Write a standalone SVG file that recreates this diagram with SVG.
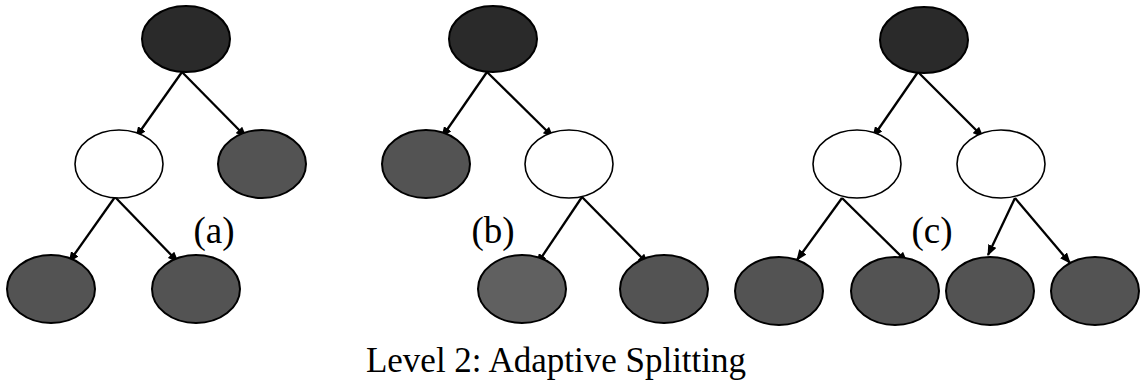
<svg xmlns="http://www.w3.org/2000/svg" width="1143" height="390" viewBox="0 0 1143 390">
  <style>
    .node { stroke: #000; stroke-width: 2; }
    .root { fill: #2a2a2a; }
    .dark { fill: #535353; }
    .mid { fill: #606060; }
    .open { fill: #fff; stroke-width: 1.6; }
    .edge { stroke: #000; stroke-width: 2.3; fill: none; marker-end: url(#arrow); }
    .label { font-family: "Liberation Serif", "Times New Roman", serif; fill: #000; text-anchor: middle; }
  </style>
  <defs>
    <marker id="arrow" markerUnits="userSpaceOnUse" markerWidth="11" markerHeight="9" refX="10" refY="4.5" orient="auto">
      <path d="M0,0 L11,4.5 L0,9 z" fill="#000"/>
    </marker>
  </defs>
  <rect width="1143" height="390" fill="#fff"/>

  <!-- connectors -->
  <g id="connectors">
    <!-- tree a -->
    <line class="edge" x1="182" y1="72" x2="136" y2="137"/>
    <line class="edge" x1="182" y1="72" x2="246" y2="137"/>
    <line class="edge" x1="115" y1="197" x2="69" y2="262"/>
    <line class="edge" x1="115" y1="197" x2="178" y2="262"/>
    <!-- tree b -->
    <line class="edge" x1="487" y1="72" x2="442" y2="137"/>
    <line class="edge" x1="487" y1="72" x2="553" y2="137"/>
    <line class="edge" x1="582" y1="197" x2="537" y2="264"/>
    <line class="edge" x1="582" y1="197" x2="648" y2="264"/>
    <!-- tree c -->
    <line class="edge" x1="918" y1="72" x2="873" y2="137"/>
    <line class="edge" x1="918" y1="72" x2="983" y2="137"/>
    <line class="edge" x1="842" y1="198" x2="797" y2="260"/>
    <line class="edge" x1="842" y1="198" x2="907" y2="262"/>
    <line class="edge" x1="1015" y1="198" x2="988" y2="255"/>
    <line class="edge" x1="1015" y1="198" x2="1070" y2="263"/>
  </g>

  <!-- tree a -->
  <g id="a-root"><ellipse class="node root" cx="186" cy="39" rx="44" ry="33"/></g>
  <g id="a-left"><ellipse class="node open" cx="119" cy="164" rx="44" ry="34"/></g>
  <g id="a-right"><ellipse class="node dark" cx="262" cy="164" rx="44" ry="34"/></g>
  <g id="a-left-left"><ellipse class="node dark" cx="51" cy="289" rx="44" ry="34"/></g>
  <g id="a-left-right"><ellipse class="node dark" cx="196" cy="289" rx="44" ry="34"/></g>
  <text id="label-a" class="label" x="214" y="243" font-size="37">(a)</text>

  <!-- tree b -->
  <g id="b-root"><ellipse class="node root" cx="493" cy="39" rx="44" ry="33"/></g>
  <g id="b-left"><ellipse class="node dark" cx="426" cy="164" rx="44" ry="34"/></g>
  <g id="b-right"><ellipse class="node open" cx="569" cy="164" rx="44" ry="34"/></g>
  <g id="b-right-left"><ellipse class="node mid" cx="522" cy="289" rx="44" ry="34"/></g>
  <g id="b-right-right"><ellipse class="node dark" cx="664" cy="289" rx="44" ry="34"/></g>
  <text id="label-b" class="label" x="493" y="243" font-size="37">(b)</text>

  <!-- tree c -->
  <g id="c-root"><ellipse class="node root" cx="924" cy="40" rx="44" ry="33"/></g>
  <g id="c-left"><ellipse class="node open" cx="857" cy="164" rx="44" ry="34"/></g>
  <g id="c-right"><ellipse class="node open" cx="1001" cy="164" rx="44" ry="34"/></g>
  <g id="c-left-left"><ellipse class="node dark" cx="779" cy="291" rx="44" ry="34"/></g>
  <g id="c-left-right"><ellipse class="node dark" cx="895" cy="291" rx="44" ry="34"/></g>
  <g id="c-right-left"><ellipse class="node dark" cx="990" cy="291" rx="44" ry="34"/></g>
  <g id="c-right-right"><ellipse class="node dark" cx="1095" cy="291" rx="44" ry="34"/></g>
  <text id="label-c" class="label" x="932" y="243" font-size="37">(c)</text>

  <text id="caption" class="label" x="556" y="372" font-size="35">Level 2: Adaptive Splitting</text>
</svg>
